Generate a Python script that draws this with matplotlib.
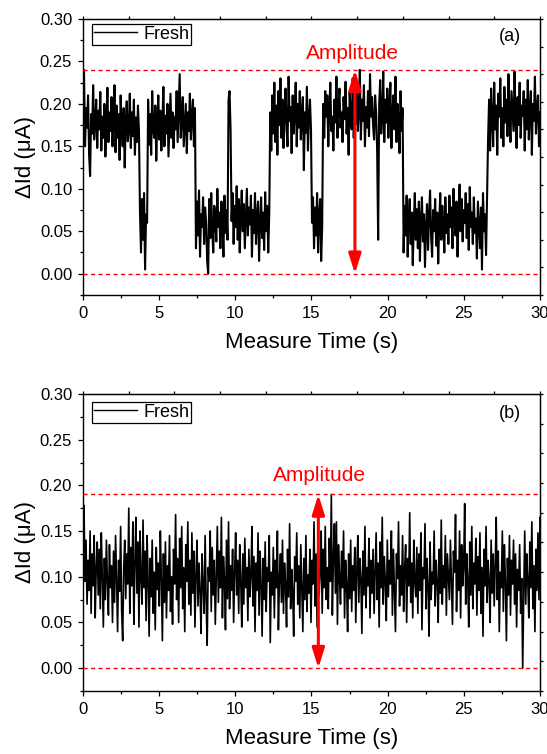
import matplotlib

matplotlib.use("Agg")
import matplotlib.pyplot as plt
import numpy as np

plt.rcParams["font.family"] = ["Liberation Sans", "DejaVu Sans"]

# Drain-current fluctuation (nA), one row = one second of the 30 s record
FRESH_A_NA = [
    203, 240, 150, 195, 172, 210, 140, 115, 188, 165, 222, 158, 180, 205, 148,
    192, 170, 214, 145, 185, 160, 200, 138, 176, 219, 155, 190, 168, 208, 150,
    182, 222, 143, 198, 160, 188, 134, 210, 172, 150, 195, 125, 178, 203, 156,
    170, 212, 148, 190, 162, 205, 140, 184, 155, 198, 168, 72, 25, 88, 40,
    95, 5, 70, 60, 205, 152, 188, 140, 215, 170, 160, 198, 133, 182, 210,
    158, 192, 145, 178, 220, 150, 186, 165, 200, 138, 175, 212, 160, 190, 148,
    185, 170, 215, 155, 195, 235, 160, 180, 208, 150, 176, 200, 142, 190, 168,
    212, 158, 186, 205, 150, 195, 30, 85, 45, 98, 20, 70, 55, 90, 35,
    78, 60, 15, 0, 88, 42, 95, 50, 25, 80, 65, 38, 100, 55, 72,
    30, 85, 60, 20, 92, 48, 75, 40, 205, 215, 170, 62, 95, 35, 80,
    55, 103, 40, 88, 25, 70, 98, 50, 82, 30, 66, 100, 45, 78, 58,
    92, 20, 75, 48, 95, 35, 68, 85, 15, 60, 90, 42, 72, 28, 96,
    50, 80, 25, 70, 190, 145, 210, 165, 225, 155, 198, 140, 215, 175, 230,
    160, 205, 148, 188, 218, 170, 150, 232, 180, 196, 142, 210, 165, 190, 225,
    150, 200, 172, 215, 158, 186, 208, 122, 190, 166, 220, 145, 182, 205, 170,
    60, 90, 30, 78, 45, 95, 25, 70, 88, 15, 55, 200, 160, 215, 185,
    210, 150, 195, 225, 168, 185, 145, 205, 178, 232, 160, 198, 218, 172, 190,
    155, 208, 182, 226, 165, 195, 140, 214, 188, 170, 230, 160, 200, 176, 220,
    168, 192, 240, 158, 205, 180, 222, 150, 196, 172, 215, 162, 235, 185, 208,
    175, 158, 210, 190, 145, 40, 200, 228, 165, 185, 238, 155, 205, 178, 218,
    160, 196, 225, 148, 188, 210, 170, 232, 155, 200, 182, 142, 215, 168, 195,
    25, 80, 45, 92, 20, 65, 88, 35, 72, 10, 58, 95, 40, 76, 30,
    85, 15, 62, 90, 38, 70, 8, 55, 82, 28, 68, 98, 45, 20, 75,
    50, 88, 33, 72, 12, 60, 95, 40, 80, 58, 25, 90, 48, 70, 35,
    92, 55, 78, 30, 100, 62, 45, 85, 20, 70, 105, 50, 88, 38, 75,
    60, 95, 42, 82, 28, 102, 55, 72, 35, 90, 48, 65, 18, 85, 58,
    30, 78, 5, 95, 50, 70, 22, 88, 160, 205, 145, 218, 182, 150, 225,
    170, 198, 140, 212, 185, 230, 160, 195, 150, 220, 178, 205, 162, 235, 188,
    155, 215, 192, 168, 238, 180, 148, 208, 175, 225, 160, 198, 186, 215, 145,
    205, 170, 228, 158, 192, 215, 140, 200, 180, 232, 165, 195, 210, 150, 190,
]

FRESH_B_NA = [
    150, 178, 95, 140, 70, 118, 85, 150, 60, 125, 90, 145, 55, 110, 138,
    80, 130, 65, 148, 100, 45, 120, 75, 140, 95, 58, 135, 88, 112, 50,
    128, 72, 145, 98, 40, 118, 84, 155, 62, 30, 108, 140, 76, 125, 92,
    175, 60, 132, 90, 160, 48, 115, 165, 82, 138, 45, 150, 100, 70, 162,
    88, 128, 52, 145, 95, 35, 120, 78, 140, 60, 105, 42, 132, 86, 115,
    68, 150, 98, 30, 125, 72, 138, 55, 112, 85, 145, 62, 100, 48, 130,
    92, 168, 75, 120, 50, 142, 88, 155, 65, 110, 40, 135, 95, 160, 70,
    118, 58, 148, 82, 128, 45, 102, 140, 68, 115, 85, 38, 125, 90, 60,
    145, 75, 25, 110, 95, 150, 62, 132, 80, 118, 48, 100, 155, 72, 128,
    88, 165, 55, 122, 98, 42, 140, 76, 160, 65, 112, 85, 130, 50, 105,
    148, 80, 118, 60, 135, 95, 45, 125, 70, 142, 88, 110, 52, 130, 78,
    100, 155, 68, 122, 40, 115, 85, 148, 58, 128, 92, 35, 120, 75, 138,
    62, 110, 95, 145, 28, 105, 80, 132, 55, 118, 88, 150, 42, 98, 125,
    72, 140, 60, 115, 92, 45, 130, 78, 158, 65, 108, 85, 35, 122, 95,
    148, 70, 112, 55, 135, 88, 40, 120, 75, 145, 62, 102, 82, 130, 50,
    118, 92, 160, 68, 125, 45, 140, 80, 105, 150, 60, 130, 88, 155, 75,
    110, 65, 142, 95, 190, 58, 120, 158, 82, 160, 48, 135, 100, 70, 128,
    88, 150, 55, 118, 92, 40, 125, 76, 140, 62, 112, 85, 132, 50, 105,
    145, 72, 120, 98, 38, 128, 80, 155, 66, 110, 90, 142, 55, 118, 82,
    130, 60, 102, 148, 75, 115, 45, 138, 88, 165, 70, 122, 95, 52, 140,
    78, 118, 92, 150, 58, 130, 85, 40, 125, 98, 160, 68, 112, 80, 145,
    62, 108, 135, 50, 120, 90, 170, 72, 115, 55, 140, 95, 78, 132, 60,
    125, 85, 148, 42, 110, 98, 158, 65, 120, 88, 35, 138, 75, 105, 92,
    150, 68, 118, 95, 50, 130, 82, 162, 70, 112, 88, 145, 58, 125, 100,
    75, 140, 92, 48, 128, 105, 168, 62, 118, 85, 150, 55, 135, 90, 110,
    180, 70, 125, 95, 45, 138, 80, 155, 65, 115, 92, 142, 58, 122, 85,
    148, 60, 110, 35, 130, 90, 155, 72, 118, 95, 50, 140, 82, 125, 68,
    112, 165, 75, 128, 40, 105, 88, 150, 62, 135, 95, 30, 120, 80, 145,
    58, 118, 92, 140, 70, 125, 45, 108, 85, 135, 60, 98, 0, 80, 150,
    70, 125, 95, 55, 138, 88, 160, 65, 112, 40, 130, 85, 148, 75, 165,
]

DURATION_S = 30.0
AMPLITUDE_A = 0.24
AMPLITUDE_B = 0.19
X_TICKS = [0, 5, 10, 15, 20, 25, 30]
Y_TICKS = [0.00, 0.05, 0.10, 0.15, 0.20, 0.25, 0.30]
XLIM = (0, 30)
YLIM = (-0.025, 0.30)

RED = "#ff0000"


def draw_panel(ax, values_na, amplitude, tag, arrow_x, label_xy, legend_top, lw):
    t = np.linspace(0, DURATION_S, len(values_na))
    y = np.asarray(values_na) / 1000.0
    ax.plot(t, y, color="black", lw=lw, label="Fresh")

    for level in (amplitude, 0.0):
        ax.axhline(level, color=RED, lw=1.0, ls=(0, (3, 2.4)), zorder=3)

    ax.annotate(
        "",
        xy=(arrow_x, amplitude),
        xytext=(arrow_x, 0.0),
        arrowprops=dict(
            arrowstyle="<|-|>,head_length=0.8,head_width=0.25",
            mutation_scale=15,
            color=RED,
            lw=2.2,
            shrinkA=0,
            shrinkB=0,
        ),
        zorder=4,
    )
    ax.text(label_xy[0], label_xy[1], "Amplitude", color=RED, fontsize=15,
            ha="center", va="center")
    ax.text(28.0, 0.279, tag, fontsize=13, ha="center", va="center")

    ax.set_xlim(*XLIM)
    ax.set_ylim(*YLIM)
    ax.set_xticks(X_TICKS)
    ax.set_xticks(np.arange(2.5, 30, 5), minor=True)
    ax.set_yticks(Y_TICKS)
    ax.set_yticks(np.arange(-0.025, 0.30, 0.05), minor=True)
    ax.set_yticklabels([f"{v:.2f}" for v in Y_TICKS])
    ax.tick_params(which="major", direction="out", length=3.8, width=0.9,
                   labelsize=12, pad=4)
    ax.tick_params(which="minor", direction="out", length=2.2, width=0.9)
    for spine in ax.spines.values():
        spine.set_linewidth(1.0)

    # Origin style opposite axes: ten equal divisions, no labels
    top = ax.secondary_xaxis("top")
    top.set_xticks(np.linspace(XLIM[0], XLIM[1], 11))
    top.tick_params(direction="out", length=2.2, width=0.9, labeltop=False)
    right = ax.secondary_yaxis("right")
    right.set_yticks(np.linspace(YLIM[0], YLIM[1], 11))
    right.tick_params(direction="out", length=2.2, width=0.9, labelright=False)

    ax.set_xlabel("Measure Time (s)", fontsize=16, labelpad=8)
    ax.set_ylabel("\u0394Id (\u03bcA)", fontsize=16, labelpad=3)

    leg = ax.legend(
        loc="upper left",
        bbox_to_anchor=(0.02, legend_top),
        borderaxespad=0,
        fontsize=13,
        frameon=True,
        fancybox=False,
        framealpha=1,
        edgecolor="black",
        borderpad=0.1,
        handlelength=2.4,
        handletextpad=0.35,
    )
    leg.get_frame().set_linewidth(0.9)
    for handle in leg.legend_handles:
        handle.set_linewidth(1.0)


def main():
    fig = plt.figure(figsize=(5.47, 7.54), dpi=100)
    ax_a = fig.add_axes([0.1517, 0.6088, 0.8355, 0.3661])
    ax_b = fig.add_axes([0.1517, 0.0836, 0.8355, 0.3939])

    draw_panel(ax_a, FRESH_A_NA, AMPLITUDE_A, "(a)", 17.85, (17.7, 0.259), 0.982, 1.5)
    draw_panel(ax_b, FRESH_B_NA, AMPLITUDE_B, "(b)", 15.45, (15.55, 0.211), 0.973, 1.2)

    fig.savefig("out.png", dpi=100)
    plt.close(fig)


if __name__ == "__main__":
    main()
